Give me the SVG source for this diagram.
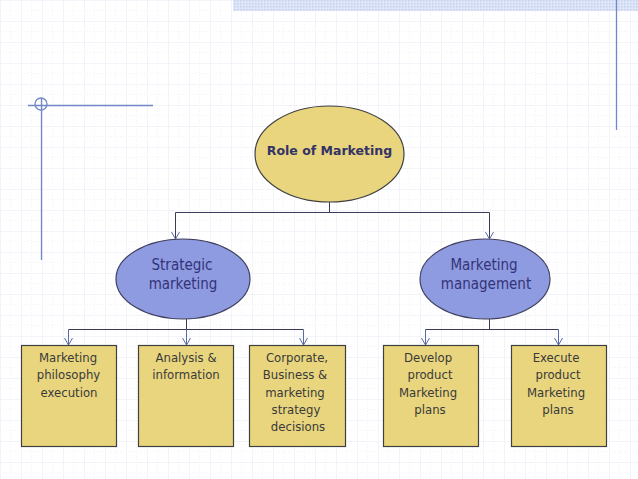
<svg xmlns="http://www.w3.org/2000/svg" width="638" height="479" viewBox="0 0 638 479">
<defs>
<pattern id="grid" x="0" y="0" width="21" height="21" patternUnits="userSpaceOnUse">
<path d="M0 0V21M0 0H21" fill="none" stroke="#e6eaf4" stroke-width="1"/>
<path d="M10.5 0V21M0 10.5H21" fill="none" stroke="#f1f3f9" stroke-width="1" stroke-dasharray="1 2"/>
</pattern>
<pattern id="dots" x="0" y="0" width="3" height="3" patternUnits="userSpaceOnUse">
<rect width="3" height="3" fill="#dfe6f7"/>
<rect width="1.5" height="1.5" fill="#c3d0ef"/>
</pattern>
<marker id="arr" markerWidth="10" markerHeight="10" refX="8" refY="5" orient="auto" markerUnits="userSpaceOnUse" viewBox="0 0 10 10">
<path d="M1 1L8 5L1 9" fill="none" stroke="#5a6aa8" stroke-width="1"/>
</marker>
<style>
.conn{fill:none;stroke:#3a3a5a;stroke-width:1}
.arrow{fill:none;stroke:#5a6aa8;stroke-width:1}
.deco{fill:none;stroke:#7088c8;stroke-width:1.3}
.yel{fill:#e9d57e;stroke:#404040;stroke-width:1.2}
.blu{fill:#8f9be0;stroke:#404060;stroke-width:1.2}
.bt{font-family:"DejaVu Sans Condensed","DejaVu Sans","Liberation Sans",sans-serif;font-size:13px;fill:#3a3a3a;text-anchor:middle}
.et{font-family:"DejaVu Sans Condensed","DejaVu Sans","Liberation Sans",sans-serif;font-size:15px;fill:#33337a;text-anchor:middle}
.rt{font-family:"DejaVu Sans","Liberation Sans",sans-serif;font-size:12.5px;font-weight:bold;fill:#333366;text-anchor:middle}
</style>
</defs>
<rect width="638" height="479" fill="#ffffff"/>
<rect width="638" height="479" fill="url(#grid)"/>
<g id="decoration">
<rect x="233" y="0" width="405" height="11" fill="url(#dots)"/>
<line class="deco" x1="616.5" y1="0" x2="616.5" y2="130"/>
<line class="deco" x1="28" y1="105.5" x2="153" y2="105.5"/>
<line class="deco" x1="41.5" y1="98" x2="41.5" y2="260"/>
<circle class="deco" cx="41" cy="104" r="6"/>
</g>
<g id="connectors">
<path class="conn" d="M329.5 202V212.5M175.5 212.5H489.5"/>
<path class="conn" d="M175.5 212.5V239" marker-end="url(#arr)"/>
<path class="conn" d="M489.5 212.5V239" marker-end="url(#arr)"/>
<path class="conn" d="M186.5 319V329.5M68.5 329.5H303.5"/>
<path class="arrow" d="M68.5 329.5V345" marker-end="url(#arr)"/>
<path class="arrow" d="M186.5 329.5V345" marker-end="url(#arr)"/>
<path class="arrow" d="M303.5 329.5V345" marker-end="url(#arr)"/>
<path class="conn" d="M489.5 319V329.5M425.5 329.5H558.5"/>
<path class="arrow" d="M425.5 329.5V345" marker-end="url(#arr)"/>
<path class="arrow" d="M558.5 329.5V345" marker-end="url(#arr)"/>
</g>
<g id="role">
<ellipse class="yel" cx="329.5" cy="154" rx="74.5" ry="48"/>
<text class="rt" x="329.5" y="155">Role of Marketing</text>
</g>
<g id="strategic">
<ellipse class="blu" cx="183" cy="279" rx="67" ry="40"/>
<text class="et" x="182" y="270">Strategic</text>
<text class="et" x="183" y="289">marketing</text>
</g>
<g id="management">
<ellipse class="blu" cx="485" cy="279" rx="65" ry="40"/>
<text class="et" x="484" y="270">Marketing</text>
<text class="et" x="486" y="289">management</text>
</g>
<g id="box1">
<rect class="yel" x="21.5" y="345.5" width="95" height="101"/>
<text class="bt" x="68" y="362">Marketing</text>
<text class="bt" x="68.5" y="379">philosophy</text>
<text class="bt" x="69" y="397">execution</text>
</g>
<g id="box2">
<rect class="yel" x="138.5" y="345.5" width="95" height="101"/>
<text class="bt" x="186" y="362">Analysis &amp;</text>
<text class="bt" x="186" y="379">information</text>
</g>
<g id="box3">
<rect class="yel" x="249.5" y="345.5" width="96" height="101"/>
<text class="bt" x="297" y="362">Corporate,</text>
<text class="bt" x="295" y="379">Business &amp;</text>
<text class="bt" x="295" y="397">marketing</text>
<text class="bt" x="296" y="414">strategy</text>
<text class="bt" x="298" y="431">decisions</text>
</g>
<g id="box4">
<rect class="yel" x="383.5" y="345.5" width="95" height="101"/>
<text class="bt" x="428" y="362">Develop</text>
<text class="bt" x="430" y="379">product</text>
<text class="bt" x="428" y="397">Marketing</text>
<text class="bt" x="430" y="414">plans</text>
</g>
<g id="box5">
<rect class="yel" x="511.5" y="345.5" width="95" height="101"/>
<text class="bt" x="556" y="362">Execute</text>
<text class="bt" x="558" y="379">product</text>
<text class="bt" x="556" y="397">Marketing</text>
<text class="bt" x="558" y="414">plans</text>
</g>
</svg>
